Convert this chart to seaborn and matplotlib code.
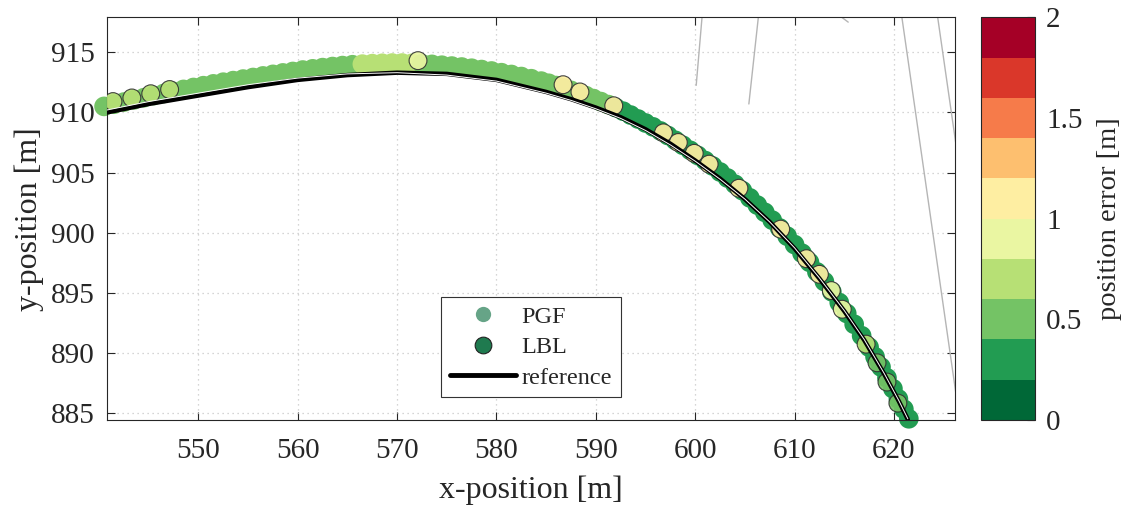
import pandas as pd
import matplotlib
matplotlib.use("Agg")
import matplotlib.pyplot as plt
import seaborn as sns
from matplotlib.lines import Line2D
from matplotlib.colors import Normalize, to_rgba
from matplotlib.cm import ScalarMappable

# reference trajectory (black) and thin white line drawn on top of it
ref_x = [540.8, 545, 550, 555, 560, 565, 570, 575, 580, 585, 587.5, 590, 592.5,
         595, 597.5, 600, 602.5, 605, 607.5, 610, 612.5, 615, 617, 619, 620.5, 621.4]
ref_y = [910.0, 910.7, 911.4, 912.1, 912.7, 913.1, 913.3, 913.2, 912.7, 911.7, 911.1,
         910.4, 909.6, 908.6, 907.4, 906.0, 904.5, 902.8, 900.9, 898.7, 896.2, 893.5,
         891.1, 888.3, 886.0, 884.5]
ref2_y = [910.2, 910.9, 911.6, 912.3, 912.85, 913.2, 913.3, 913.1, 912.6, 911.6, 911.0,
          910.3, 909.5, 908.5, 907.3, 905.95, 904.45, 902.8, 900.9, 898.75, 896.25, 893.55,
          891.15, 888.35, 886.05, 884.55]

# PGF position estimates (dense band)
pgf_x = [540.5, 541.5, 542.5, 543.5, 544.5, 545.5, 546.5, 547.5, 548.5, 549.5,
         550.5, 551.5, 552.5, 553.5, 554.5, 555.5, 556.5, 557.5, 558.5, 559.5,
         560.5, 561.5, 562.5, 563.5, 564.5, 565.5, 566.5, 567.5, 568.5, 569.5,
         570.5, 571.5, 572.5, 573.5, 574.5, 575.5, 576.5, 577.5, 578.5, 579.5,
         580.5, 581.5, 582.5, 583.5, 584.5,
         585.25, 586.0, 586.75, 587.5, 588.25, 589.0, 589.75, 590.5, 591.25,
         592.0, 592.75, 593.5, 594.25, 595.0, 595.75, 596.5, 597.25, 598.0, 598.75,
         599.5, 600.25, 601.0, 601.75, 602.5, 603.25, 604.0, 604.75, 605.5, 606.25,
         607.0, 607.75, 608.5, 609.25, 610.0, 610.75, 611.5, 612.25, 613.0, 613.75,
         614.5, 615.25, 616.0, 616.75, 617.5,
         618.1, 618.7, 619.3, 619.9, 620.45, 621.0, 621.5]
pgf_y = [910.5, 910.68, 910.86, 911.04, 911.22, 911.4, 911.57, 911.74, 911.91, 912.07,
         912.22, 912.37, 912.51, 912.64, 912.77, 912.9, 913.03, 913.16, 913.28, 913.4,
         913.52, 913.62, 913.72, 913.81, 913.89, 913.96, 914.01, 914.05, 914.08, 914.1,
         914.1, 914.08, 914.04, 913.99, 913.92, 913.85, 913.77, 913.67, 913.56, 913.44,
         913.3, 913.15, 912.98, 912.8, 912.6,
         912.42, 912.23, 912.03, 911.83, 911.62, 911.39, 911.15, 910.9, 910.65,
         910.4, 910.1, 909.78, 909.45, 909.12, 908.8, 908.46, 908.08, 907.68, 907.27,
         906.85, 906.43, 906.0, 905.55, 905.05, 904.55, 904.03, 903.5, 902.9, 902.3,
         901.7, 901.05, 900.4, 899.72, 899.02, 898.3, 897.55, 896.75, 895.95, 895.1,
         894.2, 893.3, 892.4, 891.45, 890.5,
         889.7, 888.85, 887.95, 887.05, 886.2, 885.35, 884.55]
pgf_err = [0.5] * 26 + [0.7] * 6 + [0.5] * 22 + [0.3] * 42

# LBL position estimates
lbl_x = [541.4, 543.3, 545.2, 547.1, 572.1, 586.7, 588.4, 591.8, 596.8, 598.3, 599.9,
         601.4, 604.4, 608.6, 611.2, 612.5, 613.7, 614.8, 617.2, 618.3, 619.3, 620.4]
lbl_y = [910.9, 911.2, 911.55, 911.9, 914.3, 912.3, 911.7, 910.55, 908.3, 907.5, 906.6,
         905.7, 903.7, 900.3, 897.85, 896.55, 895.2, 893.65, 890.75, 889.2, 887.6, 885.85]
lbl_err = [0.7, 0.7, 0.7, 0.7, 0.9, 1.1, 1.1, 1.1, 1.1, 1.1, 1.1,
           1.1, 1.1, 1.1, 1.1, 1.1, 0.9, 0.9, 0.7, 0.55, 0.5, 0.45]

# other grey tracks at the upper right
grey_x = [[600.8, 600.1], [606.5, 605.4], [614.75, 615.4], [620.75, 626.7], [624.3, 627.0]]
grey_y = [[919.0, 912.25], [919.0, 910.7], [917.9, 917.5], [918.2, 884.0], [918.5, 903.0]]

sns.set_style("ticks")
plt.rcParams["font.family"] = ["Liberation Serif", "DejaVu Serif"]
plt.rcParams["axes.edgecolor"] = "#262626"
plt.rcParams["xtick.color"] = "#262626"
plt.rcParams["ytick.color"] = "#262626"

cmap = plt.get_cmap("RdYlGn_r", 10)
norm = Normalize(0, 2)

fig = plt.figure(figsize=(11.29, 5.09), dpi=100)
ax = fig.add_axes([0.0948, 0.1749, 0.7511, 0.7911])
cax = fig.add_axes([0.869, 0.1749, 0.0478, 0.7911])

for gx, gy in zip(grey_x, grey_y):
    ax.plot(gx, gy, color="#b5b5b5", lw=1.0, zorder=1.5)

pgf = pd.DataFrame({"x": pgf_x, "y": pgf_y, "err": pgf_err})
lbl = pd.DataFrame({"x": lbl_x, "y": lbl_y, "err": lbl_err})

sns.scatterplot(data=pgf, x="x", y="y", hue="err", palette=cmap, hue_norm=(0, 2),
                s=200, linewidth=0, legend=False, ax=ax, zorder=2, clip_on=False)
sns.scatterplot(data=lbl, x="x", y="y", hue="err", palette=cmap, hue_norm=(0, 2),
                s=165, linewidth=0.8, edgecolor="#333333", alpha=0.92, legend=False,
                ax=ax, zorder=3)
sns.lineplot(x=ref_x, y=ref_y, sort=False, estimator=None, color="black", lw=3.2,
             ax=ax, zorder=4)
sns.lineplot(x=ref_x, y=ref2_y, sort=False, estimator=None, color="white", lw=0.7,
             ax=ax, zorder=4.5)

ax.set_xlim(540.8, 626.15)
ax.set_ylim(884.45, 917.9)
ax.set_xticks(range(550, 621, 10))
ax.set_yticks(range(885, 916, 5))
ax.grid(True, linestyle=(0, (1, 3)), color="#c8c8c8", lw=0.9)
ax.set_axisbelow(True)
for sp in ax.spines.values():
    sp.set_linewidth(0.8)
    sp.set_visible(True)
ax.tick_params(direction="in", length=6, width=0.8, top=True, right=True,
               labelsize=21, pad=13)
ax.tick_params(axis="y", pad=9)
ax.set_xlabel("x-position [m]", fontsize=23, labelpad=8)
ax.set_ylabel("y-position [m]", fontsize=23, labelpad=5)

handles = [
    Line2D([], [], marker="o", linestyle="", markersize=11,
           markerfacecolor=to_rgba(cmap(0), 0.6), markeredgecolor="none"),
    Line2D([], [], marker="o", linestyle="", markersize=12,
           markerfacecolor=to_rgba(cmap(0), 0.88), markeredgecolor="#222222",
           markeredgewidth=0.8),
    Line2D([], [], color="black", lw=3.5),
]
leg = ax.legend(handles, ["PGF", "LBL", "reference"], loc="lower center",
                bbox_to_anchor=(0.5, 0.057), fontsize=17.5, frameon=True,
                fancybox=False, framealpha=1, edgecolor="#333333",
                handlelength=2.7, labelspacing=0.34, borderpad=0.35,
                handletextpad=0.25, borderaxespad=0)
leg.get_frame().set_linewidth(0.8)

cb = fig.colorbar(ScalarMappable(norm=norm, cmap=cmap), cax=cax)
cb.set_ticks([0, 0.5, 1, 1.5, 2])
cb.set_ticklabels(["0", "0.5", "1", "1.5", "2"])
cb.ax.tick_params(direction="in", length=6, width=0.8, labelsize=21, pad=8)
cb.outline.set_linewidth(0.8)
cb.set_label("position error [m]", fontsize=20.5, labelpad=10)

fig.savefig("out.png", dpi=100)
